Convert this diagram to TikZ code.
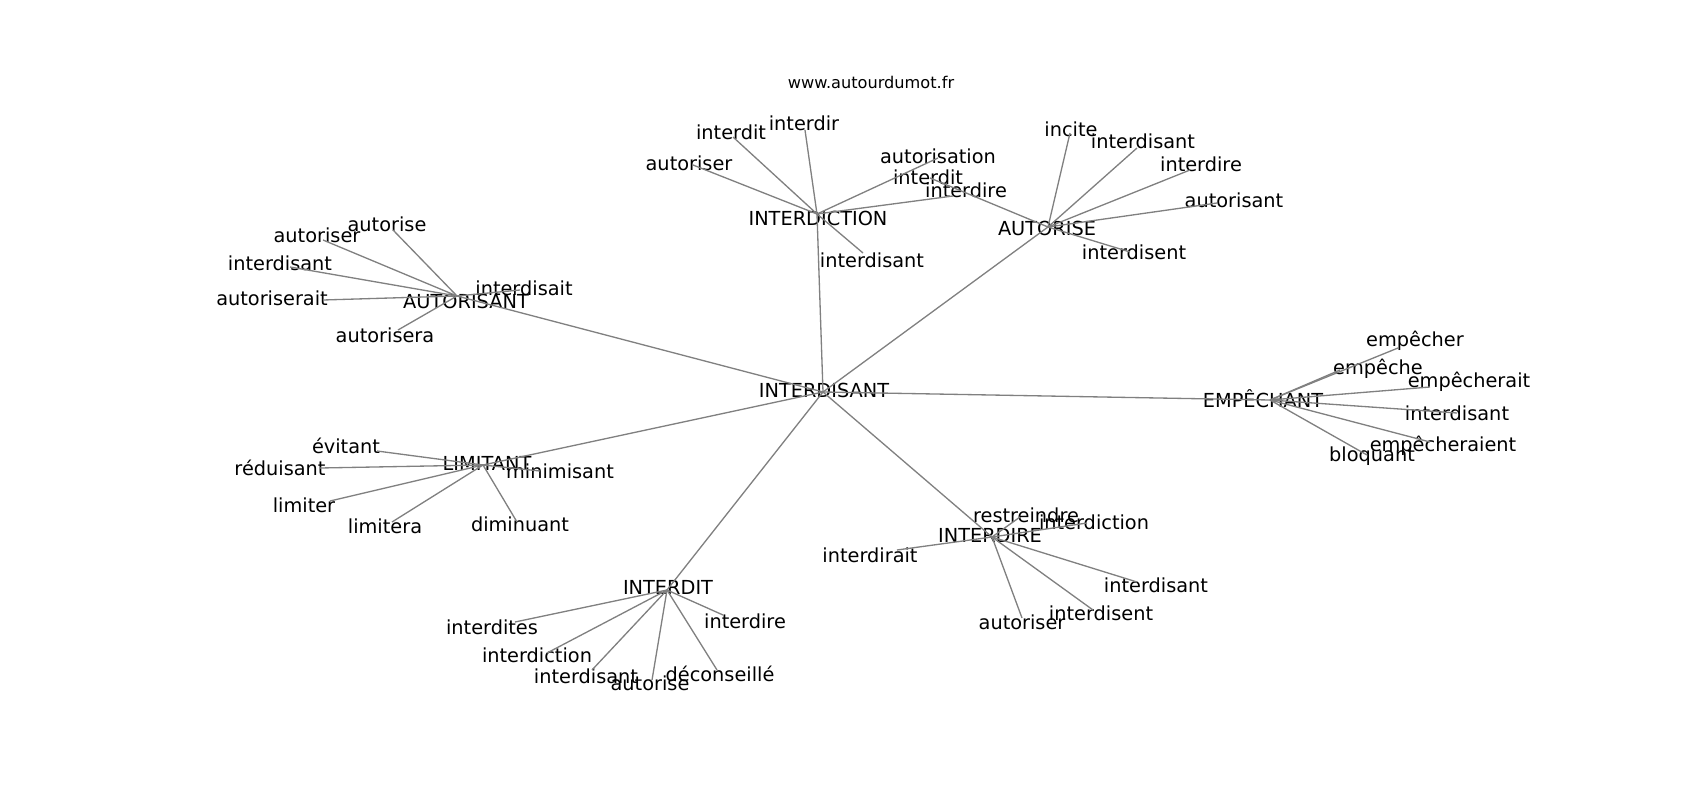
\documentclass[tikz,border=0pt]{standalone}
\usepackage{fontspec}
\setmainfont{DejaVu Sans}
\usetikzlibrary{positioning}

\begin{document}
\begin{tikzpicture}[x=0.02cm,y=-0.02cm,
	every node/.style={inner sep=0pt,font=\fontsize{11}{13}\selectfont},
	site/.style={font=\fontsize{9.2}{11}\selectfont},
	link/.style={draw=black!50,line width=0.75pt}]
	\useasboundingbox (0,0) rectangle (1700,800);
	\node[site] (url) at (871,82) {www.autourdumot.fr};

	% hubs
	\coordinate (hC) at (823,392);
	\coordinate (hA) at (457,296);
	\coordinate (hI) at (817,214);
	\coordinate (hE) at (1048,227);
	\coordinate (hM) at (1270,400);
	\coordinate (hL) at (483,465);
	\coordinate (hR) at (992,537);
	\coordinate (hT) at (667,590);
	\node (wC) at (824,390) {INTERDISANT};
	\node (wA) at (466,301) {AUTORISANT};
	\node (wI) at (818,218) {INTERDICTION};
	\node (wE) at (1047,228) {AUTORISE};
	\node (wM) at (1263,399) {EMPÊCHANT};
	\node (wL) at (487,463) {LIMITANT};
	\node (wR) at (990,535) {INTERDIRE};
	\node (wT) at (668,587) {INTERDIT};

	% AUTORISANT
	\coordinate (a1) at (393,230); \node (a1w) at (387,224) {autorise};
	\coordinate (a2) at (323,240); \node (a2w) at (317,235) {autoriser};
	\coordinate (a3) at (290,267); \node (a3w) at (280,263) {interdisant};
	\coordinate (a4) at (323,300); \node (a4w) at (272,298) {autoriserait};
	\coordinate (a5) at (520,290); \node (a5w) at (524,288) {interdisait};
	\coordinate (a6) at (398,330); \node (a6w) at (385,335) {autorisera};

	% INTERDICTION
	\coordinate (i1) at (693,165); \node (i1w) at (689,163) {autoriser};
	\coordinate (i2) at (733,137); \node (i2w) at (731,132) {interdit};
	\coordinate (i3) at (805,130); \node (i3w) at (804,123) {interdir};
	\coordinate (i4) at (938,158); \node (i4w) at (938,156) {autorisation};
	\coordinate (i5) at (953,196); \node (i5w) at (966,190) {interdire};
	\coordinate (i6) at (863,253); \node (i6w) at (872,260) {interdisant};

	% AUTORISE
	\coordinate (e1) at (930,178); \node (e1w) at (928,177) {interdit};
	\coordinate (e2) at (1070,133); \node (e2w) at (1071,129) {incite};
	\coordinate (e3) at (1137,148); \node (e3w) at (1143,141) {interdisant};
	\coordinate (e4) at (1190,170); \node (e4w) at (1201,164) {interdire};
	\coordinate (e5) at (1217,203); \node (e5w) at (1234,200) {autorisant};
	\coordinate (e6) at (1130,252); \node (e6w) at (1134,252) {interdisent};

	% EMPÊCHANT
	\coordinate (m1) at (1398,348); \node (m1w) at (1415,341) {empêcher};
	\coordinate (m2) at (1340,370); \node (m2w) at (1378,369) {empêche};
	\coordinate (m3) at (1430,387); \node (m3w) at (1469,382) {empêcherait};
	\coordinate (m4) at (1457,413); \node (m4w) at (1457,413) {interdisant};
	\coordinate (m5) at (1430,442); \node (m5w) at (1443,446) {empêcheraient};
	\coordinate (m6) at (1367,455); \node (m6w) at (1372,456) {bloquant};

	% LIMITANT
	\coordinate (l1) at (377,451); \node (l1w) at (346,446) {évitant};
	\coordinate (l2) at (320,468); \node (l2w) at (280,468) {réduisant};
	\coordinate (l3) at (330,501); \node (l3w) at (304,505) {limiter};
	\coordinate (l4) at (392,522); \node (l4w) at (385,526) {limitera};
	\coordinate (l5) at (517,522); \node (l5w) at (520,524) {diminuant};
	\coordinate (l6) at (540,471); \node (l6w) at (560,471) {minimisant};

	% INTERDIRE
	\coordinate (r1) at (1020,517); \node (r1w) at (1026,515) {restreindre};
	\coordinate (r2) at (1087,523); \node (r2w) at (1094,522) {interdiction};
	\coordinate (r3) at (897,550); \node (r3w) at (870,555) {interdirait};
	\coordinate (r4) at (1137,582); \node (r4w) at (1156,585) {interdisant};
	\coordinate (r5) at (1093,610); \node (r5w) at (1101,613) {interdisent};
	\coordinate (r6) at (1022,618); \node (r6w) at (1022,622) {autoriser};

	% INTERDIT
	\coordinate (t1) at (515,622); \node (t1w) at (492,627) {interdites};
	\coordinate (t2) at (547,653); \node (t2w) at (537,655) {interdiction};
	\coordinate (t3) at (592,670); \node (t3w) at (586,676) {interdisant};
	\coordinate (t4) at (652,680); \node (t4w) at (650,683) {autorise};
	\coordinate (t5) at (717,670); \node (t5w) at (720,674) {déconseillé};
	\coordinate (t6) at (723,615); \node (t6w) at (745,621) {interdire};

	\path[link]
	(hC) edge (hA) (hC) edge (hI) (hC) edge (hE) (hC) edge (hM)
	(hC) edge (hL) (hC) edge (hR) (hC) edge (hT)
	(hA) edge (a1) (hA) edge (a2) (hA) edge (a3) (hA) edge (a4) (hA) edge (a5) (hA) edge (a6)
	(hI) edge (i1) (hI) edge (i2) (hI) edge (i3) (hI) edge (i4) (hI) edge (i5) (hI) edge (i6)
	(hE) edge (e1) (hE) edge (e2) (hE) edge (e3) (hE) edge (e4) (hE) edge (e5) (hE) edge (e6)
	(hM) edge (m1) (hM) edge (m2) (hM) edge (m3) (hM) edge (m4) (hM) edge (m5) (hM) edge (m6)
	(hL) edge (l1) (hL) edge (l2) (hL) edge (l3) (hL) edge (l4) (hL) edge (l5) (hL) edge (l6)
	(hR) edge (r1) (hR) edge (r2) (hR) edge (r3) (hR) edge (r4) (hR) edge (r5) (hR) edge (r6)
	(hT) edge (t1) (hT) edge (t2) (hT) edge (t3) (hT) edge (t4) (hT) edge (t5) (hT) edge (t6)
	;
\end{tikzpicture}
\end{document}
